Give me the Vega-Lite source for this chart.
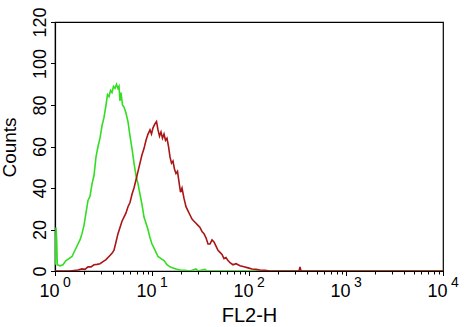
{
  "$schema": "https://vega.github.io/schema/vega-lite/v6.json",
  "autosize": "none",
  "width": 388,
  "height": 249,
  "padding": {"left": 55, "top": 22, "right": 23, "bottom": 56},
  "background": "white",
  "config": {
    "view": {"stroke": "black", "strokeWidth": 1.2},
    "font": "Liberation Sans",
    "axis": {"domainColor": "black", "tickColor": "black", "labelColor": "black", "titleColor": "black", "grid": false, "domainWidth": 1.2, "tickWidth": 1}
  },
  "datasets": {
    "curves": [
      {"s": "g", "x": 1.007, "y": 3}, {"s": "g", "x": 1.024, "y": 21}, {"s": "g", "x": 1.041, "y": 15}, {"s": "g", "x": 1.056, "y": 3},
      {"s": "g", "x": 1.126, "y": 2.5}, {"s": "g", "x": 1.209, "y": 3}, {"s": "g", "x": 1.299, "y": 5}, {"s": "g", "x": 1.394, "y": 6},
      {"s": "g", "x": 1.497, "y": 7}, {"s": "g", "x": 1.608, "y": 10}, {"s": "g", "x": 1.726, "y": 13}, {"s": "g", "x": 1.81, "y": 15},
      {"s": "g", "x": 1.898, "y": 18}, {"s": "g", "x": 1.991, "y": 22}, {"s": "g", "x": 2.087, "y": 28}, {"s": "g", "x": 2.189, "y": 34},
      {"s": "g", "x": 2.296, "y": 36}, {"s": "g", "x": 2.407, "y": 42}, {"s": "g", "x": 2.524, "y": 46}, {"s": "g", "x": 2.647, "y": 55},
      {"s": "g", "x": 2.776, "y": 60}, {"s": "g", "x": 2.911, "y": 64}, {"s": "g", "x": 3.052, "y": 70}, {"s": "g", "x": 3.201, "y": 74},
      {"s": "g", "x": 3.357, "y": 80}, {"s": "g", "x": 3.478, "y": 85}, {"s": "g", "x": 3.604, "y": 84}, {"s": "g", "x": 3.734, "y": 87},
      {"s": "g", "x": 3.869, "y": 86}, {"s": "g", "x": 4.009, "y": 89}, {"s": "g", "x": 4.155, "y": 88}, {"s": "g", "x": 4.305, "y": 90},
      {"s": "g", "x": 4.461, "y": 88}, {"s": "g", "x": 4.568, "y": 89}, {"s": "g", "x": 4.678, "y": 82}, {"s": "g", "x": 4.791, "y": 86},
      {"s": "g", "x": 4.964, "y": 80}, {"s": "g", "x": 5.143, "y": 79}, {"s": "g", "x": 5.395, "y": 76}, {"s": "g", "x": 5.656, "y": 72},
      {"s": "g", "x": 5.933, "y": 65}, {"s": "g", "x": 6.221, "y": 59}, {"s": "g", "x": 6.523, "y": 52}, {"s": "g", "x": 6.841, "y": 46},
      {"s": "g", "x": 7.173, "y": 42}, {"s": "g", "x": 7.521, "y": 37}, {"s": "g", "x": 7.887, "y": 32}, {"s": "g", "x": 8.27, "y": 26},
      {"s": "g", "x": 8.672, "y": 23}, {"s": "g", "x": 9.095, "y": 20}, {"s": "g", "x": 9.537, "y": 16}, {"s": "g", "x": 10.0, "y": 13},
      {"s": "g", "x": 10.49, "y": 11}, {"s": "g", "x": 11.0, "y": 9}, {"s": "g", "x": 11.53, "y": 7}, {"s": "g", "x": 12.38, "y": 6},
      {"s": "g", "x": 13.3, "y": 5}, {"s": "g", "x": 14.27, "y": 3}, {"s": "g", "x": 15.33, "y": 2}, {"s": "g", "x": 16.46, "y": 1.5},
      {"s": "g", "x": 17.68, "y": 1}, {"s": "g", "x": 19.45, "y": 0.5}, {"s": "g", "x": 21.89, "y": 0.3}, {"s": "g", "x": 24.65, "y": 0},
      {"s": "g", "x": 28.42, "y": 1}, {"s": "g", "x": 29.8, "y": 0}, {"s": "g", "x": 35.19, "y": 0.8}, {"s": "g", "x": 36.9, "y": 0},
      {"s": "g", "x": 44.62, "y": 0}, {"s": "g", "x": 10000, "y": 0},
      {"s": "r", "x": 1, "y": 0}, {"s": "r", "x": 1.427, "y": 0}, {"s": "r", "x": 1.726, "y": 0.5}, {"s": "r", "x": 1.898, "y": 1},
      {"s": "r", "x": 2.038, "y": 0.8}, {"s": "r", "x": 2.189, "y": 2}, {"s": "r", "x": 2.35, "y": 2}, {"s": "r", "x": 2.524, "y": 3},
      {"s": "r", "x": 2.71, "y": 3.2}, {"s": "r", "x": 2.911, "y": 3.5}, {"s": "r", "x": 3.126, "y": 4.5}, {"s": "r", "x": 3.357, "y": 5.5},
      {"s": "r", "x": 3.604, "y": 7}, {"s": "r", "x": 3.869, "y": 8.5}, {"s": "r", "x": 4.057, "y": 10}, {"s": "r", "x": 4.255, "y": 14},
      {"s": "r", "x": 4.461, "y": 18}, {"s": "r", "x": 4.678, "y": 21}, {"s": "r", "x": 4.906, "y": 24}, {"s": "r", "x": 5.143, "y": 26},
      {"s": "r", "x": 5.395, "y": 28}, {"s": "r", "x": 5.656, "y": 31}, {"s": "r", "x": 5.933, "y": 33}, {"s": "r", "x": 6.221, "y": 37},
      {"s": "r", "x": 6.523, "y": 40}, {"s": "r", "x": 6.841, "y": 44}, {"s": "r", "x": 7.173, "y": 48}, {"s": "r", "x": 7.521, "y": 52},
      {"s": "r", "x": 7.887, "y": 56}, {"s": "r", "x": 8.27, "y": 59}, {"s": "r", "x": 8.672, "y": 63}, {"s": "r", "x": 9.095, "y": 66},
      {"s": "r", "x": 9.537, "y": 68}, {"s": "r", "x": 9.882, "y": 66}, {"s": "r", "x": 10.24, "y": 69}, {"s": "r", "x": 10.74, "y": 71},
      {"s": "r", "x": 11.13, "y": 72}, {"s": "r", "x": 11.53, "y": 68}, {"s": "r", "x": 11.95, "y": 65}, {"s": "r", "x": 12.38, "y": 67},
      {"s": "r", "x": 12.83, "y": 64}, {"s": "r", "x": 13.3, "y": 66}, {"s": "r", "x": 13.78, "y": 63}, {"s": "r", "x": 14.27, "y": 64},
      {"s": "r", "x": 14.8, "y": 60}, {"s": "r", "x": 15.33, "y": 55}, {"s": "r", "x": 15.89, "y": 52}, {"s": "r", "x": 16.46, "y": 53},
      {"s": "r", "x": 17.06, "y": 49}, {"s": "r", "x": 17.68, "y": 47}, {"s": "r", "x": 18.32, "y": 48}, {"s": "r", "x": 18.98, "y": 43},
      {"s": "r", "x": 19.67, "y": 38}, {"s": "r", "x": 20.39, "y": 40}, {"s": "r", "x": 21.38, "y": 35}, {"s": "r", "x": 22.41, "y": 31},
      {"s": "r", "x": 23.5, "y": 29}, {"s": "r", "x": 24.65, "y": 27}, {"s": "r", "x": 25.85, "y": 25}, {"s": "r", "x": 27.1, "y": 24},
      {"s": "r", "x": 28.42, "y": 23}, {"s": "r", "x": 29.8, "y": 22}, {"s": "r", "x": 31.25, "y": 21}, {"s": "r", "x": 32.77, "y": 19},
      {"s": "r", "x": 34.36, "y": 18}, {"s": "r", "x": 36.03, "y": 16}, {"s": "r", "x": 37.79, "y": 13}, {"s": "r", "x": 39.62, "y": 13},
      {"s": "r", "x": 41.55, "y": 15}, {"s": "r", "x": 43.57, "y": 14}, {"s": "r", "x": 45.68, "y": 12}, {"s": "r", "x": 47.91, "y": 10},
      {"s": "r", "x": 50.23, "y": 9}, {"s": "r", "x": 52.67, "y": 8}, {"s": "r", "x": 55.25, "y": 6}, {"s": "r", "x": 57.93, "y": 6.5},
      {"s": "r", "x": 60.74, "y": 5}, {"s": "r", "x": 63.69, "y": 4}, {"s": "r", "x": 68.42, "y": 3}, {"s": "r", "x": 73.46, "y": 3.5},
      {"s": "r", "x": 80.78, "y": 2.5}, {"s": "r", "x": 88.83, "y": 2}, {"s": "r", "x": 97.65, "y": 1.5}, {"s": "r", "x": 107.4, "y": 1},
      {"s": "r", "x": 118.1, "y": 0.8}, {"s": "r", "x": 129.8, "y": 0.5}, {"s": "r", "x": 146.2, "y": 0.3}, {"s": "r", "x": 164.6, "y": 0},
      {"s": "r", "x": 327.7, "y": 0}, {"s": "r", "x": 335.6, "y": 2}, {"s": "r", "x": 343.6, "y": 0}, {"s": "r", "x": 10000, "y": 0}
    ],
    "exponents": [
      {"x": 1, "e": "0"}, {"x": 10, "e": "1"}, {"x": 100, "e": "2"}, {"x": 1000, "e": "3"}, {"x": 10000, "e": "4"}
    ]
  },
  "encoding": {
    "x": {
      "field": "x", "type": "quantitative",
      "scale": {"type": "log", "domain": [1, 10000], "nice": false},
      "axis": {
        "title": "FL2-H", "titleFontSize": 20, "titleFontWeight": "normal", "titleY": 50, "titleBaseline": "alphabetic",
        "values": [1,2,3,4,5,6,7,8,9,10,20,30,40,50,60,70,80,90,100,200,300,400,500,600,700,800,900,1000,2000,3000,4000,5000,6000,7000,8000,9000,10000],
        "labelExpr": "indexof([1,10,100,1000,10000], datum.value) >= 0 ? '10' : ''",
        "labelFontSize": 18, "labelOverlap": false, "labelFlush": false, "labelBaseline": "alphabetic", "labelPadding": 21, "labelOffset": -6,
        "tickSize": {"condition": {"test": "indexof([1,10,100,1000,10000], datum.value) >= 0", "value": 4.5}, "value": 3}
      }
    }
  },
  "layer": [
    {
      "data": {"name": "curves"},
      "transform": [{"filter": "datum.s === 'g'"}],
      "mark": {"type": "line", "color": "#33dd22", "strokeWidth": 1.6, "clip": true},
      "encoding": {
        "y": {
          "field": "y", "type": "quantitative",
          "scale": {"domain": [0, 120], "nice": false},
          "axis": {
            "title": "Counts", "titleFontSize": 19, "titleFontWeight": "normal", "titleAngle": -90, "titleX": -40, "titleY": 125, "titleBaseline": "alphabetic", "titleAlign": "center",
            "values": [0,5,10,15,20,25,30,35,40,45,50,55,60,65,70,75,80,85,90,95,100,105,110,115,120],
            "labelExpr": "datum.value % 20 === 0 ? datum.label : ''",
            "labelFontSize": 18, "labelAngle": -90, "labelAlign": "center", "labelBaseline": "alphabetic", "labelOverlap": false, "labelFlush": false, "labelPadding": 5,
            "tickSize": {"condition": {"test": "datum.value % 20 === 0", "value": 4.5}, "value": 3}
          }
        }
      }
    },
    {
      "data": {"name": "curves"},
      "transform": [{"filter": "datum.s === 'r'"}],
      "mark": {"type": "line", "color": "#aa1515", "strokeWidth": 1.6, "clip": true},
      "encoding": {"y": {"field": "y", "type": "quantitative"}}
    },
    {
      "data": {"name": "exponents"},
      "mark": {"type": "text", "align": "left", "baseline": "alphabetic", "fontSize": 14, "font": "Liberation Sans", "color": "black", "dx": 8, "dy": 16},
      "encoding": {
        "y": {"datum": 0, "type": "quantitative"},
        "text": {"field": "e"}
      }
    }
  ]
}
